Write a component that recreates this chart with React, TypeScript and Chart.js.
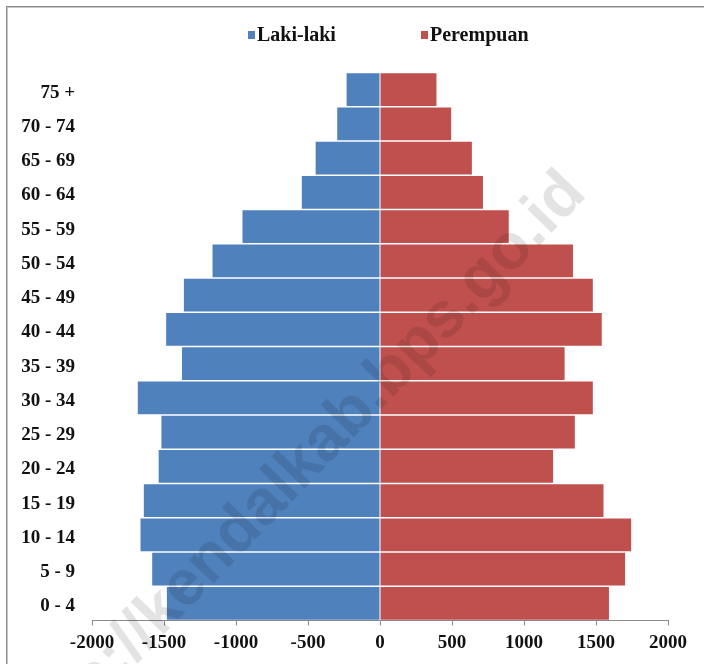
import React, { useEffect, useRef } from "react";
import { Chart, registerables } from "chart.js";

Chart.register(...registerables);

// ---- data (top of pyramid first) ----
const AGE_GROUPS = [
  "75 +", "70 - 74", "65 - 69", "60 - 64", "55 - 59", "50 - 54", "45 - 49", "40 - 44",
  "35 - 39", "30 - 34", "25 - 29", "20 - 24", "15 - 19", "10 - 14", "5 - 9", "0 - 4",
];
const MALE = [-232, -297, -447, -543, -955, -1163, -1362, -1485, -1375, -1682, -1518, -1537, -1640, -1663, -1582, -1480];
const FEMALE = [392, 494, 638, 715, 894, 1340, 1478, 1540, 1282, 1478, 1353, 1202, 1552, 1744, 1702, 1590];
const SERIES_NAMES = ["Laki-laki", "Perempuan"];
const SERIES_COLORS = ["#4F81BD", "#C0504D"];
const X_MIN = -2000;
const X_MAX = 2000;
const X_STEP = 500;
const WATERMARK = "http://kendalkab.bps.go.id";

const SERIF = '"Liberation Serif", "Times New Roman", serif';

const legendPlugin = {
  id: "customLegend",
  afterDraw(chart: any) {
    const ctx = chart.ctx;
    const cx = chart.width / 2;
    const offsets = [-104, 69];
    ctx.save();
    ctx.font = `bold 20px ${SERIF}`;
    ctx.textBaseline = "middle";
    ctx.textAlign = "left";
    chart.data.datasets.forEach((ds: any, i: number) => {
      const x = cx + offsets[i];
      ctx.fillStyle = ds.backgroundColor;
      ctx.fillRect(x, 31, 7, 8);
      ctx.fillStyle = "#111";
      ctx.fillText(ds.label, x + 9, 36);
    });
    ctx.restore();
  },
};

const watermarkPlugin = {
  id: "watermark",
  afterDraw(chart: any) {
    const ctx = chart.ctx;
    ctx.save();
    ctx.translate(300, 468);
    ctx.rotate((-46 * Math.PI) / 180);
    ctx.font = 'bold 64px "Liberation Sans", Arial, sans-serif';
    ctx.fillStyle = "rgba(0,0,0,0.11)";
    ctx.textAlign = "center";
    ctx.textBaseline = "middle";
    ctx.fillText(WATERMARK, 0, 0);
    ctx.restore();
  },
};

export default function App() {
  const canvasRef = useRef<HTMLCanvasElement | null>(null);

  useEffect(() => {
    if (!canvasRef.current) return;
    const chart = new Chart(canvasRef.current, {
      type: "bar",
      data: {
        labels: AGE_GROUPS,
        datasets: [
          {
            label: SERIES_NAMES[0],
            data: MALE,
            backgroundColor: SERIES_COLORS[0],
            borderWidth: 0,
            barPercentage: 0.95,
            categoryPercentage: 1,
          },
          {
            label: SERIES_NAMES[1],
            data: FEMALE,
            backgroundColor: SERIES_COLORS[1],
            borderWidth: 0,
            barPercentage: 0.95,
            categoryPercentage: 1,
          },
        ],
      },
      options: {
        indexAxis: "y",
        responsive: false,
        animation: false,
        layout: { padding: { top: 72.5, right: 36, left: 0, bottom: 0 } },
        plugins: {
          legend: { display: false },
          tooltip: { enabled: false },
          title: { display: false },
        },
        scales: {
          y: {
            type: "category",
            stacked: true,
            grid: { display: false, drawTicks: false },
            border: { display: false },
            ticks: {
              color: "#111",
              padding: 17,
              labelOffset: 3,
              font: { family: SERIF, size: 19, weight: "bold" },
            },
            afterFit(scale: any) {
              scale.width = 92;
            },
          },
          x: {
            type: "linear",
            stacked: true,
            min: X_MIN,
            max: X_MAX,
            grid: {
              drawOnChartArea: false,
              drawTicks: true,
              tickLength: 5,
              color: "#8a8a8a",
            },
            border: { display: true, color: "#8a8a8a", width: 1 },
            ticks: {
              stepSize: X_STEP,
              color: "#111",
              padding: 6,
              maxRotation: 0,
              font: { family: SERIF, size: 19, weight: "bold" },
              callback: (v: any) => String(v),
            },
            afterFit(scale: any) {
              scale.height = 43.5;
            },
          },
        },
      } as any,
      plugins: [legendPlugin, watermarkPlugin],
    });
    return () => chart.destroy();
  }, []);

  return (
    <div
      style={{
        position: "fixed",
        left: 0,
        top: 0,
        width: 704,
        height: 664,
        overflow: "hidden",
        background: "#fff",
      }}
    >
      <canvas ref={canvasRef} width={704} height={664} style={{ position: "absolute", left: 0, top: 0 }} />
      <div
        style={{
          position: "absolute",
          left: 6,
          top: 6,
          width: 760,
          height: 720,
          borderLeft: "1px solid #8a8a8a",
          borderTop: "1px solid #8a8a8a",
          boxShadow: "inset 1px 1px 0 #c8c8c8",
          pointerEvents: "none",
        }}
      />
    </div>
  );
}
